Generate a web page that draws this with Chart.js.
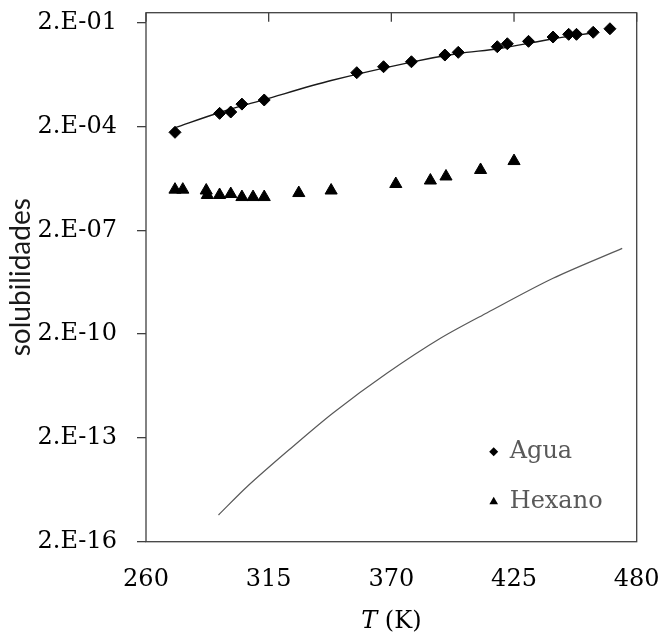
<!DOCTYPE html>
<html>
<head>
<meta charset="utf-8">
<script src="https://cdn.jsdelivr.net/npm/chart.js@4/dist/chart.umd.min.js"></script>
<style>
  html, body { margin: 0; padding: 0; background: #fff; }
</style>
</head>
<body>
<canvas id="chart" width="662" height="636"></canvas>
<script>
// measured points (T in K, solubility)
const aguaT = [273, 293, 298, 303, 313, 354.5, 366.5, 379, 394, 400, 417.5, 422, 431.5, 442.5, 449.5, 453, 460.5, 468];
const aguaSol = [1.36e-4, 4.8e-4, 5.25e-4, 8.9e-4, 1.17e-3, 7.2e-3, 1.07e-2, 1.49e-2, 2.33e-2, 2.79e-2, 4.05e-2, 4.94e-2, 5.8e-2, 7.73e-2, 9.25e-2, 9.25e-2, 0.106, 0.134];
const hexanoT = [273, 276.5, 287, 287.5, 293, 298, 303, 308, 313, 328.5, 343, 372, 387.5, 394.5, 410, 425];
const hexanoSol = [3.0e-6, 3.0e-6, 2.83e-6, 2.1e-6, 2.1e-6, 2.24e-6, 1.83e-6, 1.83e-6, 1.83e-6, 2.39e-6, 2.83e-6, 4.36e-6, 5.5e-6, 7.2e-6, 1.11e-5, 2.01e-5];

// correlation curves
const aguaCurveT = [273, 293, 313, 343, 379, 400, 418, 442, 461];
const aguaCurveSol = [1.85e-4, 5.1e-4, 1.2e-3, 4.27e-3, 1.46e-2, 2.58e-2, 3.55e-2, 6.76e-2, 0.103];
const hexanoCurveT = [292.5, 305.5, 324, 344, 368, 392, 413, 442.5, 473.5];
const hexanoCurveSol = [1.18e-15, 7.98e-15, 8.9e-14, 1.07e-12, 1.47e-11, 1.51e-10, 8.3e-10, 8.2e-9, 6.0e-8];

const xTicks = [260, 315, 370, 425, 480];
const yTicks = [2e-16, 2e-13, 2e-10, 2e-7, 2e-4, 2e-1];

const toPoints = (xs, ys) => xs.map((x, i) => ({ x, y: ys[i] }));

const fmtSci = (v) => {
  const [m, e] = Number(v).toExponential(0).split('e');
  const n = parseInt(e, 10);
  return m + '.E' + (n < 0 ? '-' : '+') + String(Math.abs(n)).padStart(2, '0');
};

const serif = 'DejaVu Serif';
const frameColor = '#404040';

const drawMarker = (ctx, style, x, y, r) => {
  ctx.beginPath();
  if (style === 'rectRot') {
    ctx.moveTo(x, y - r);
    ctx.lineTo(x + r, y);
    ctx.lineTo(x, y + r);
    ctx.lineTo(x - r, y);
  } else {
    ctx.moveTo(x, y - r);
    ctx.lineTo(x + r * 0.866, y + r / 2);
    ctx.lineTo(x - r * 0.866, y + r / 2);
  }
  ctx.closePath();
  ctx.fill();
};

const decorations = {
  id: 'decorations',
  afterDraw(chart) {
    const { ctx, chartArea: a, scales } = chart;
    ctx.save();

    // plot frame
    ctx.strokeStyle = frameColor;
    ctx.lineWidth = 1.3;
    ctx.strokeRect(a.left, a.top, a.right - a.left, a.bottom - a.top);

    // x tick marks hanging from the top edge
    ctx.beginPath();
    xTicks.forEach(v => {
      const px = scales.x.getPixelForValue(v);
      ctx.moveTo(px, a.top);
      ctx.lineTo(px, a.top + 9);
    });
    ctx.stroke();

    // legend inside the plot, lower right
    const entries = chart.data.datasets.filter(d => d.legendEntry);
    ctx.textBaseline = 'middle';
    ctx.textAlign = 'left';
    ctx.font = '24px "' + serif + '"';
    entries.forEach((d, i) => {
      const y = a.bottom - 90 + i * 50;
      const x = a.right - 143;
      ctx.fillStyle = '#000';
      drawMarker(ctx, d.pointStyle, x, y, d.pointStyle === 'triangle' ? 5 : 4.5);
      ctx.fillStyle = '#595959';
      ctx.fillText(d.label, x + 16, y);
    });

    // x axis title: italic T (K)
    const cx = (a.left + a.right) / 2;
    const ty = 622;
    ctx.fillStyle = '#000';
    ctx.font = 'italic 24px "' + serif + '"';
    const tW = ctx.measureText('T').width;
    ctx.font = '24px "' + serif + '"';
    const rest = ' (K)';
    const rW = ctx.measureText(rest).width;
    const start = cx - (tW + rW) / 2;
    ctx.font = 'italic 24px "' + serif + '"';
    ctx.fillText('T', start, ty);
    ctx.font = '24px "' + serif + '"';
    ctx.fillText(rest, start + tW, ty);

    ctx.restore();
  }
};

const tickFont = { family: serif, size: 24 };

new Chart(document.getElementById('chart'), {
  type: 'scatter',
  data: {
    datasets: [
      {
        label: 'Agua',
        legendEntry: true,
        data: toPoints(aguaT, aguaSol),
        pointStyle: 'rectRot',
        pointRadius: 6,
        pointBackgroundColor: '#000',
        pointBorderColor: '#000',
        pointBorderWidth: 1
      },
      {
        label: 'Hexano',
        legendEntry: true,
        data: toPoints(hexanoT, hexanoSol),
        pointStyle: 'triangle',
        pointRadius: 7,
        pointBackgroundColor: '#000',
        pointBorderColor: '#000',
        pointBorderWidth: 1
      },
      {
        label: 'Agua (corr.)',
        data: toPoints(aguaCurveT, aguaCurveSol),
        showLine: true,
        pointRadius: 0,
        borderColor: '#1a1a1a',
        borderWidth: 1.4,
        tension: 0.3
      },
      {
        label: 'Hexano (corr.)',
        data: toPoints(hexanoCurveT, hexanoCurveSol),
        showLine: true,
        pointRadius: 0,
        borderColor: '#595959',
        borderWidth: 1.2,
        tension: 0.3
      }
    ]
  },
  options: {
    responsive: false,
    devicePixelRatio: 1,
    animation: false,
    layout: { padding: { top: 12.7, right: 25.3, bottom: 0, left: 0 } },
    plugins: {
      legend: { display: false },
      tooltip: { enabled: false }
    },
    scales: {
      x: {
        type: 'linear',
        min: 260,
        max: 480,
        afterBuildTicks: scale => { scale.ticks = xTicks.map(v => ({ value: v })); },
        afterFit: scale => {
          scale.height = 94.3;
          scale.paddingLeft = 0;
          scale.paddingRight = 0;
        },
        ticks: { font: tickFont, color: '#000', padding: 24, autoSkip: false, maxRotation: 0 },
        grid: { display: false, drawTicks: false },
        border: { display: false }
      },
      y: {
        type: 'logarithmic',
        min: 2e-16,
        max: 0.39,
        afterBuildTicks: scale => { scale.ticks = yTicks.map(v => ({ value: v })); },
        afterFit: scale => {
          scale.width = 146;
          scale.paddingTop = 0;
          scale.paddingBottom = 0;
        },
        ticks: {
          font: tickFont,
          color: '#000',
          padding: 20,
          autoSkip: false,
          callback: v => fmtSci(v)
        },
        grid: { drawOnChartArea: false, tickLength: 9, color: frameColor, lineWidth: 1.3 },
        border: { display: false },
        title: {
          display: true,
          text: 'solubilidades',
          color: '#1a1a1a',
          font: { family: 'Lato', size: 28 },
          padding: { top: 4, bottom: 0 }
        }
      }
    }
  },
  plugins: [decorations]
});
</script>
</body>
</html>
